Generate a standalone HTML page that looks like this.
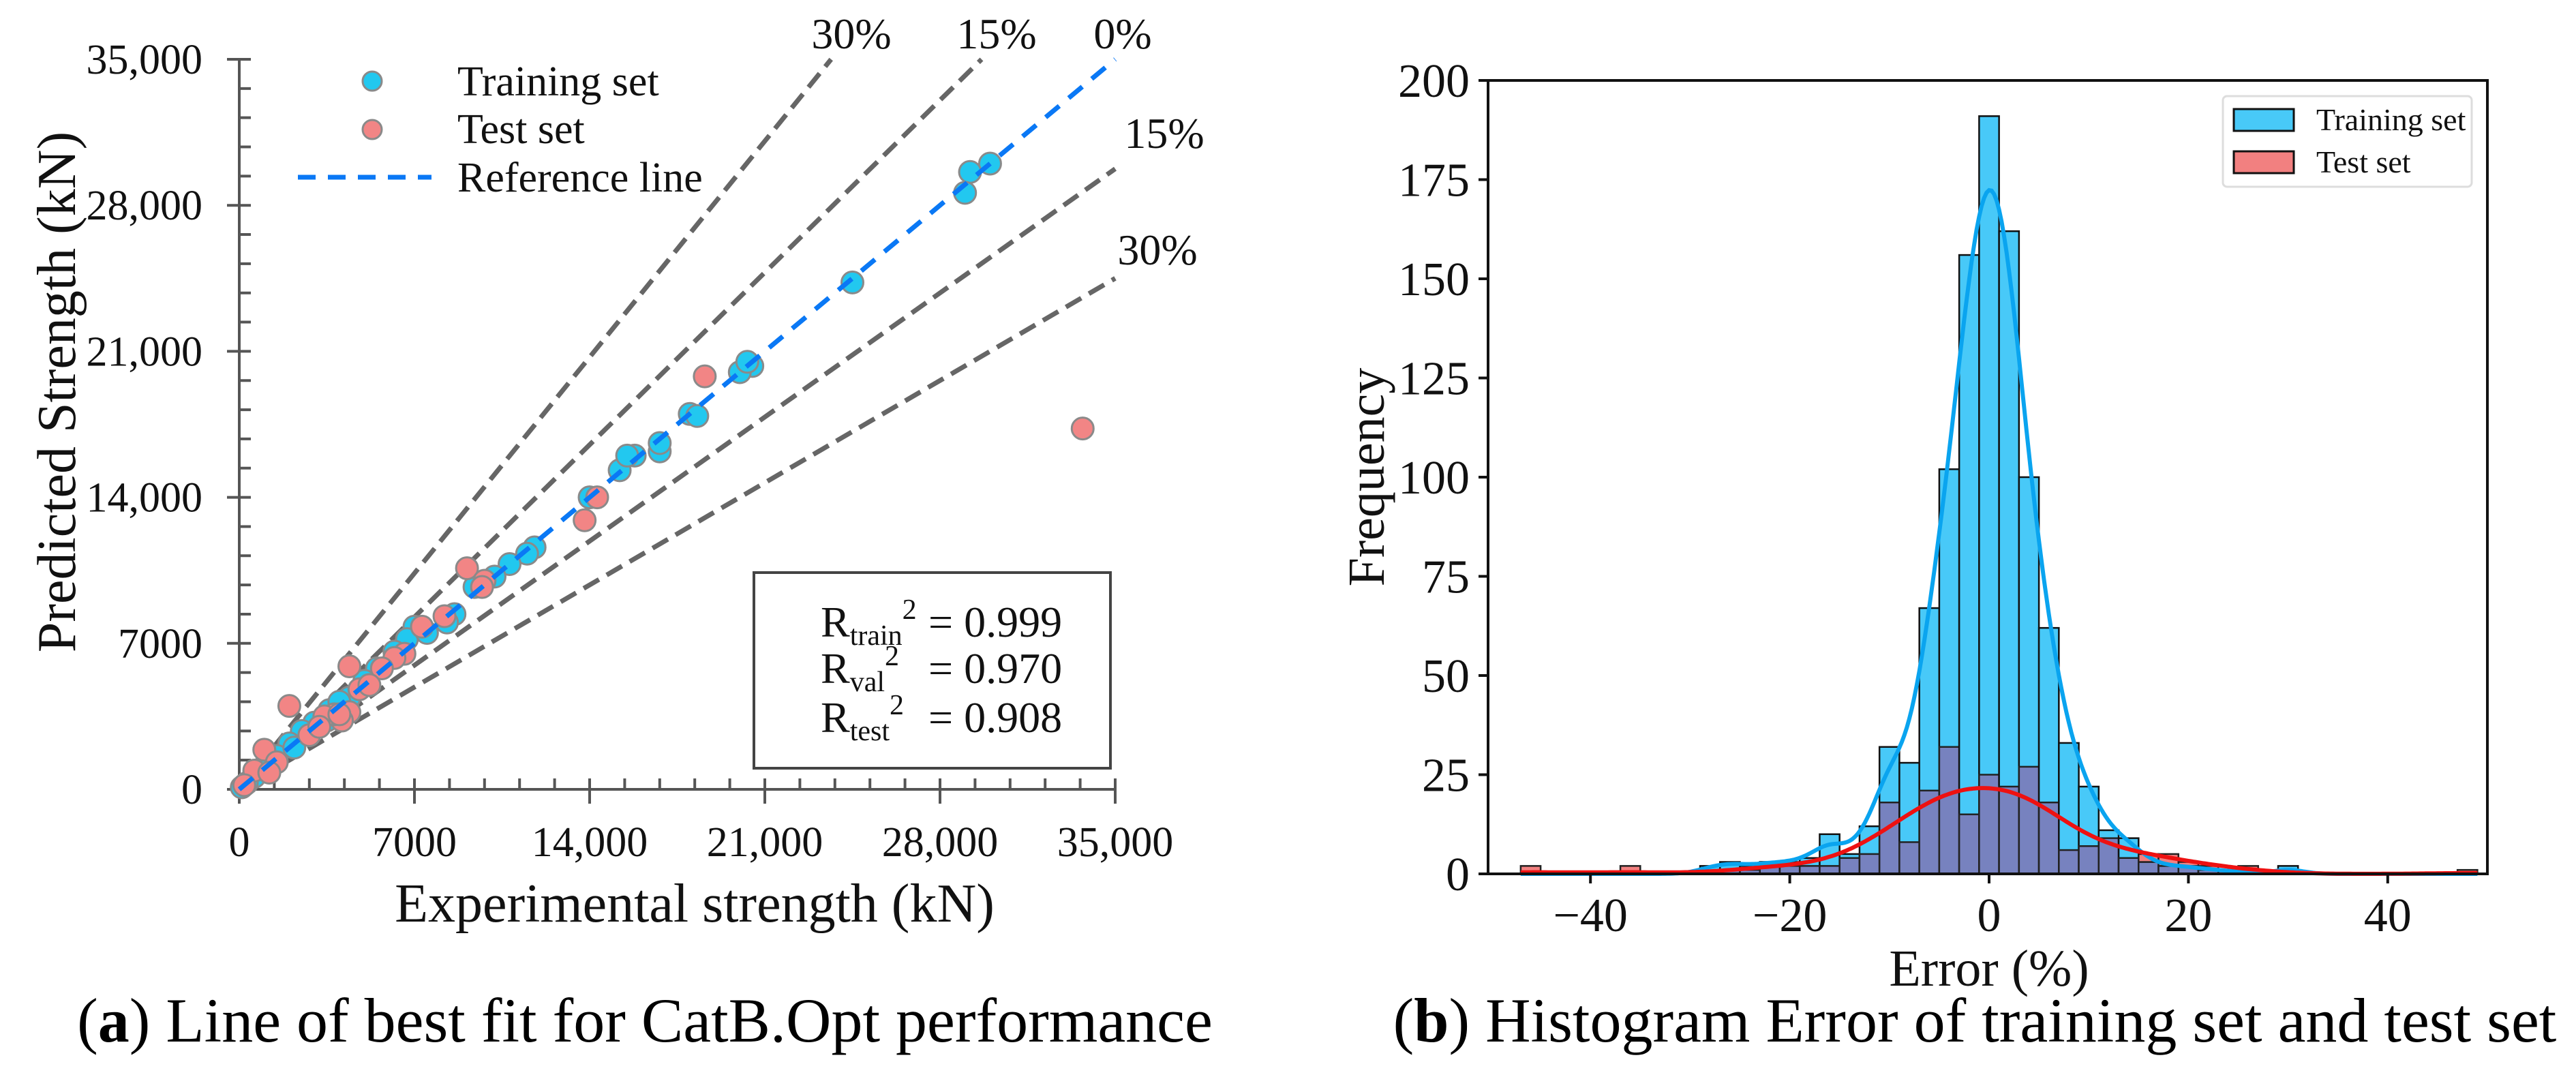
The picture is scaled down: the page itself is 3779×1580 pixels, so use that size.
<!DOCTYPE html>
<html><head><meta charset="utf-8">
<style>
html,body{margin:0;padding:0;background:#fff;}
svg{display:block;font-family:"Liberation Serif",serif;}
</style></head>
<body>
<svg id="chart" width="3779" height="1580" viewBox="0 0 3779 1580" xmlns="http://www.w3.org/2000/svg">
<g id="left"></g>
<g id="right"></g>
<text x="946" y="1528" font-size="92" text-anchor="middle">(<tspan font-weight="bold">a</tspan>) Line of best fit for CatB.Opt performance</text>
<text x="2897" y="1528" font-size="92" text-anchor="middle">(<tspan font-weight="bold">b</tspan>) Histogram Error of training set and test set</text>
</svg>
<script>
// ---- Scatter data (kN) ----
const trainX = [30000,29200,29000,24500,20500,20000,20300,18000,18300,16800,16800,15800,15200,15500,14000,11800,11500,10800,10200,9400,8600,8300,7000,6700,6200,5500,5000,4400,3600,3000,2500,2000,1500,1000,600,300,100,7500,4000,3500,2200];
const trainY = [30000,29600,28600,24300,20300,20000,20500,18000,17900,16200,16600,16000,15300,16000,14000,11600,11300,10800,10200,9700,8400,8000,7800,7200,6600,5800,5200,4400,3800,3200,2800,2200,1600,1100,600,300,100,7500,4200,3300,2000];
const testX = [33700,18600,14300,13800,9100,9800,9700,8200,7300,6600,6200,5700,4400,2000,4400,4100,3800,3400,4800,5200,1000,1500,2800,600,200,1200,4000,3200];
const testY = [17300,19800,14000,12900,10600,10000,9700,8300,7800,6500,6300,5800,5900,4000,3700,3300,3600,3500,4800,5000,1900,1300,2600,900,200,800,3600,3000];
const sTicks = [0,7000,14000,21000,28000,35000];
const sTickLabels = ["0","7000","14,000","21,000","28,000","35,000"];
const boundRatios = [1.48,1.18,0.85,0.70];
// ---- Histogram data ----
const binCenters = [-46,-44,-42,-40,-38,-36,-34,-32,-30,-28,-26,-24,-22,-20,-18,-16,-14,-12,-10,-8,-6,-4,-2,0,2,4,6,8,10,12,14,16,18,20,22,24,26,28,30,32,34,36,38,40,42,44,46,48];
const trainCounts = [0,0,0,0,0,0,0,0,0,2,3,2,3,3,4,10,5,12,32,28,67,102,156,191,162,100,62,33,22,11,9,3,2,2,1,1,0,0,2,0,0,0,0,0,0,0,0,0];
const testCounts  = [2,0,0,0,0,2,0,0,0,0,1,1,3,2,2,2,4,5,18,8,21,32,15,25,22,27,18,6,7,9,4,5,5,3,2,1,2,0,0,0,0,0,0,0,0,0,0,1];
const hTicksX = [-40,-20,0,20,40];
const hTicksY = [0,25,50,75,100,125,150,175,200];

const NS="http://www.w3.org/2000/svg";
function mk(parent,tag,attrs){const e=document.createElementNS(NS,tag);for(const k in attrs)e.setAttribute(k,attrs[k]);parent.appendChild(e);return e;}

// ===== Left scatter =====
const L=document.getElementById('left');
const sx=v=>351+v/35000*1285;
const sy=v=>1158-v/35000*1071;
let e=mk(L,'line',{x1:351,y1:87,x2:351,y2:1178,stroke:'#555','stroke-width':4});

e=mk(L,'line',{x1:333,y1:1158,x2:1636,y2:1158,stroke:'#555','stroke-width':4});

for(let i=0;i<=25;i++){
  const v=i*1400, major=i%5===0;
  e=mk(L,'line',{x1:major?333:351,y1:sy(v),x2:368,y2:sy(v),stroke:'#555','stroke-width':4});
  
  e=mk(L,'line',{x1:sx(v),y1:1142,x2:sx(v),y2:major?1179:1158,stroke:'#555','stroke-width':4});
  
}
sTicks.forEach((v,i)=>{
  e=mk(L,'text',{x:297,y:sy(v)+21,'font-size':62,'text-anchor':'end',fill:'#111'});e.textContent=sTickLabels[i];
  
  e=mk(L,'text',{x:sx(v),y:1256,'font-size':62,'text-anchor':'middle',fill:'#111'});e.textContent=sTickLabels[i];
  
});
boundRatios.forEach(r=>{
  const xe=r>1?35000/r:35000, ye=r>1?35000:35000*r;
  e=mk(L,'line',{x1:sx(0),y1:sy(0),x2:sx(xe),y2:sy(ye),stroke:'#666','stroke-width':7,'stroke-dasharray':'26 13'});
  
});
trainX.forEach((x,i)=>{e=mk(L,'circle',{cx:sx(x),cy:sy(trainY[i]),r:16,fill:'#22c8ef',stroke:'#8a8a8a','stroke-width':3});
  });
testX.forEach((x,i)=>{e=mk(L,'circle',{cx:sx(x),cy:sy(testY[i]),r:16,fill:'#f28585',stroke:'#8a8a8a','stroke-width':3});
  });
e=mk(L,'line',{x1:sx(0),y1:sy(0),x2:sx(35000),y2:sy(35000),stroke:'#0a78f5','stroke-width':7,'stroke-dasharray':'26 18'});

[[1249,71,'30%'],[1462,71,'15%'],[1647,71,'0%'],[1708,217,'15%'],[1698,388,'30%']].forEach(p=>{
  e=mk(L,'text',{x:p[0],y:p[1],'font-size':64,'text-anchor':'middle',fill:'#111'});e.textContent=p[2];
  });
e=mk(L,'circle',{cx:546,cy:119,r:14,fill:'#22c8ef',stroke:'#8a8a8a','stroke-width':3});
e=mk(L,'circle',{cx:546,cy:190,r:14,fill:'#f28585',stroke:'#8a8a8a','stroke-width':3});
e=mk(L,'line',{x1:437,y1:260,x2:633,y2:260,stroke:'#0a78f5','stroke-width':7,'stroke-dasharray':'26 18'});
[['Training set',140],['Test set',210],['Reference line',281]].forEach(t=>{
  e=mk(L,'text',{x:671,y:t[1],'font-size':62,fill:'#111'});e.textContent=t[0];
  });
e=mk(L,'rect',{x:1106,y:840,width:523,height:287,fill:'none',stroke:'#444','stroke-width':4});
[['train','0.999',934],['val','0.970',1002],['test','0.908',1074]].forEach(r=>{
  e=mk(L,'text',{x:1204,y:r[2],'font-size':64,fill:'#111'});
  e.innerHTML='R<tspan font-size="42" dy="12">'+r[0]+'</tspan><tspan font-size="42" dy="-38">2</tspan>';
  
  e=mk(L,'text',{x:1362,y:r[2],'font-size':64,fill:'#111'});e.textContent='= '+r[1];
  });
e=mk(L,'text',{x:1019,y:1352,'font-size':80,'text-anchor':'middle',fill:'#111'});e.textContent='Experimental  strength (kN)';

e=mk(L,'text',{x:0,y:0,'font-size':80,'text-anchor':'middle',fill:'#111',transform:'translate(110,575) rotate(-90)'});e.textContent='Predicted Strength  (kN)';


// ===== Right histogram =====
const R=document.getElementById('right');
const hx=v=>2918+v*14.62;
const hy=v=>1282-v/200*1164;
binCenters.forEach((c,i)=>{
  const t=trainCounts[i], s=testCounts[i], m=Math.min(t,s);
  const x0=hx(c-1), w=hx(c+1)-hx(c-1);
  if(t>0){e=mk(R,'rect',{x:x0,y:hy(t),width:w,height:hy(0)-hy(t),fill:'#48c9f8',stroke:'#111','stroke-width':2.5});
    }
  if(m>0){e=mk(R,'rect',{x:x0,y:hy(m),width:w,height:hy(0)-hy(m),fill:'#7782bf',stroke:'#222','stroke-width':2.5});
    }
  if(s>t){e=mk(R,'rect',{x:x0,y:hy(s),width:w,height:hy(t)-hy(s),fill:'#f28080',stroke:'#222','stroke-width':2.5});
    }
});
function kde(counts,h,x){let s=0;binCenters.forEach((c,i)=>{s+=counts[i]*Math.exp(-((x-c)**2)/(2*h*h));});return s*2/(Math.sqrt(2*Math.PI)*h);}
function curve(counts,h,color,name){let d='';for(let x=-47;x<=49;x+=0.25){d+=(d?'L':'M')+hx(x).toFixed(1)+','+hy(kde(counts,h,x)).toFixed(1);}
  const p=mk(R,'path',{d:d,fill:'none',stroke:color,'stroke-width':6});}
curve(trainCounts,1.6,'#0aa4ef','training-kde-curve');
curve(testCounts,4.2,'#ee1111','test-kde-curve');
e=mk(R,'rect',{x:2183,y:118,width:1466,height:1164,fill:'none',stroke:'#111','stroke-width':4});
hTicksY.forEach(v=>{e=mk(R,'line',{x1:2169,y1:hy(v),x2:2183,y2:hy(v),stroke:'#111','stroke-width':4});
  e=mk(R,'text',{x:2156,y:hy(v)+24,'font-size':70,'text-anchor':'end',fill:'#111'});e.textContent=v;});
hTicksX.forEach(v=>{e=mk(R,'line',{x1:hx(v),y1:1282,x2:hx(v),y2:1296,stroke:'#111','stroke-width':4});
  e=mk(R,'text',{x:hx(v),y:1366,'font-size':70,'text-anchor':'middle',fill:'#111'});e.textContent=v<0?'\u2212'+(-v):v;});
e=mk(R,'text',{x:2918,y:1446,'font-size':76,'text-anchor':'middle',fill:'#111'});e.textContent='Error (%)';
e=mk(R,'text',{x:0,y:0,'font-size':76,'text-anchor':'middle',fill:'#111',transform:'translate(2030,700) rotate(-90)'});e.textContent='Frequency';
e=mk(R,'rect',{x:3261,y:141,width:365,height:133,rx:6,fill:'#fff',stroke:'#ddd','stroke-width':3});
e=mk(R,'rect',{x:3277,y:160,width:88,height:32,fill:'#48c9f8',stroke:'#111','stroke-width':3});
e=mk(R,'rect',{x:3277,y:222,width:88,height:32,fill:'#f28080',stroke:'#111','stroke-width':3});
e=mk(R,'text',{x:3398,y:191,'font-size':46,fill:'#111'});e.textContent='Training set';
e=mk(R,'text',{x:3398,y:253,'font-size':46,fill:'#111'});e.textContent='Test set';
</script>
</body></html>
